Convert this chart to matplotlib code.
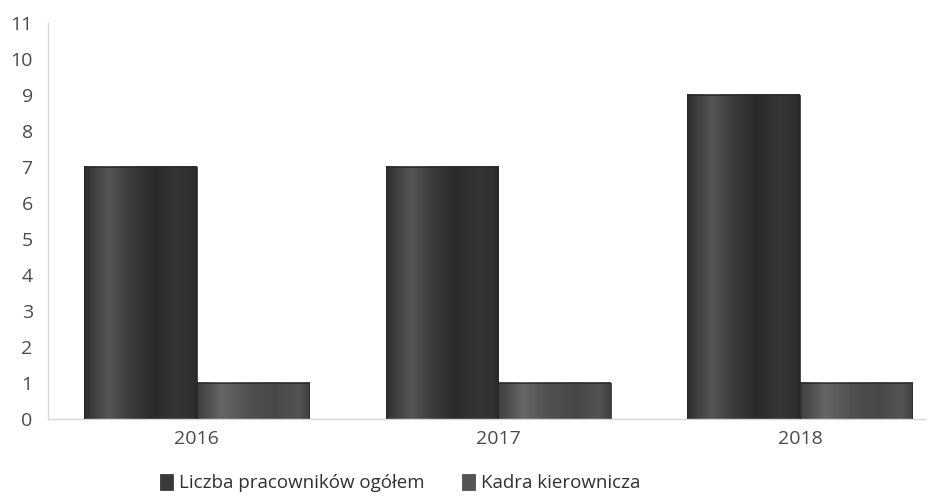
import numpy as np
import matplotlib
matplotlib.use("Agg")
import matplotlib.pyplot as plt
from matplotlib.patches import Rectangle
from matplotlib.colors import LinearSegmentedColormap

categories = ["2016", "2017", "2018"]
series_names = ["Liczba pracowników ogółem", "Kadra kierownicza"]
total_staff = [7, 7, 9]
managers = [1, 1, 1]
yticks = list(range(0, 12))

plt.rcParams['font.family'] = ['Open Sans', 'DejaVu Sans']

fig = plt.figure(figsize=(9.32, 4.97), dpi=100)
ax = fig.add_axes([0.0515, 0.157, 0.941, 0.797])

dark_cmap = LinearSegmentedColormap.from_list("dark", [
    (0.0, "#2c2c2c"), (0.07, "#3c3c3c"), (0.22, "#555555"), (0.42, "#3a3a3a"),
    (0.62, "#2a2a2a"), (0.82, "#353535"), (0.95, "#303030"), (1.0, "#282828")])
light_cmap = LinearSegmentedColormap.from_list("light", [
    (0.0, "#3e3e3e"), (0.08, "#4c4c4c"), (0.22, "#666666"), (0.45, "#505050"),
    (0.7, "#484848"), (0.9, "#535353"), (1.0, "#404040")])

x = np.arange(len(categories))
w = 0.373
grad = np.linspace(0, 1, 256).reshape(1, -1)

def gradient_bars(xs, vals, cmap):
    for xc, v in zip(xs, vals):
        left = xc - w / 2
        ax.imshow(grad, cmap=cmap, aspect='auto', extent=(left, left + w, 0, v),
                  origin='lower', zorder=2, interpolation='bilinear')
        ax.add_patch(Rectangle((left, 0), w, v, fill=False, edgecolor="#2a2a2a",
                               linewidth=0.6, zorder=3))

gradient_bars(x - w / 2, total_staff, dark_cmap)
gradient_bars(x + w / 2, managers, light_cmap)

ax.set_xlim(-0.494, 2.415)
ax.set_ylim(0, 11)
ax.set_yticks(yticks)
ax.set_xticks(x)
ax.set_xticklabels(categories)
ax.tick_params(axis='both', length=0, labelsize=14, labelcolor="#4a4a4a")
ax.tick_params(axis='y', pad=11)
ax.tick_params(axis='x', pad=8)
for s in ['top', 'right']:
    ax.spines[s].set_visible(False)
for s in ['left', 'bottom']:
    ax.spines[s].set_color("#d9d9d9")
    ax.spines[s].set_linewidth(1.0)

handles = [Rectangle((0, 0), 1, 1, facecolor="#3a3a3a", edgecolor="#2a2a2a", linewidth=0.5),
           Rectangle((0, 0), 1, 1, facecolor="#555555", edgecolor="#3e3e3e", linewidth=0.5)]
fig.legend(handles, series_names, loc='center', bbox_to_anchor=(400 / 932, 1 - 483 / 497),
           ncol=2, frameon=False, fontsize=13.5, labelcolor="#303030",
           handlelength=0.7, handleheight=1.0, handletextpad=0.3, columnspacing=2.0)

fig.savefig("out.png", dpi=100, facecolor="white")
